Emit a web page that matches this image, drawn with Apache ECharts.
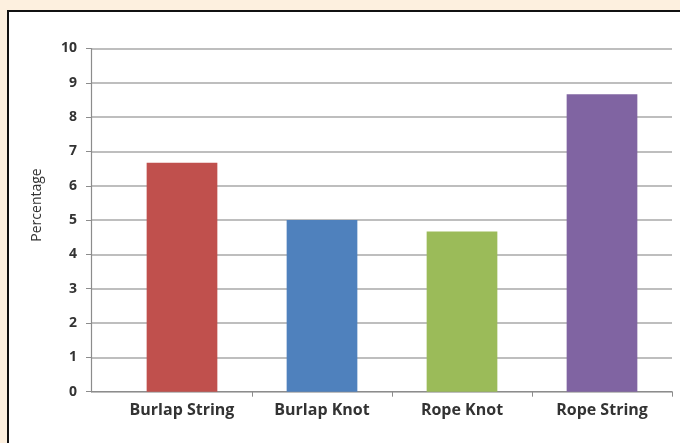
<!DOCTYPE html>
<html>
<head>
<meta charset="utf-8">
<script src="https://cdn.jsdelivr.net/npm/echarts@6/dist/echarts.min.js"></script>
<style>
  html, body { margin: 0; padding: 0; background: #fdf0df; }
  #chart { width: 680px; height: 443px; }
</style>
</head>
<body>
<div id="chart"></div>
<script>
// Share of samples per material / tie type
const categories = ['Burlap String', 'Burlap Knot', 'Rope Knot', 'Rope String'];
const percentages = [6.67, 5.0, 4.67, 8.67];
const barColors = ['#c0504d', '#4f81bd', '#9bbb59', '#8064a2'];
const yTicks = [0, 1, 2, 3, 4, 5, 6, 7, 8, 9, 10];
const yAxisTitle = 'Percentage';

const textColor = '#333333';
const fontFamily = '"Open Sans", "Noto Sans", sans-serif';

const chart = echarts.init(document.getElementById('chart'), null, { renderer: 'canvas' });

const gridTop = 48.5, gridBottom = 51.3, gridRight = 8;

chart.setOption({
  backgroundColor: '#fdf0df',
  animation: false,
  graphic: [
    {
      type: 'rect',
      z: -10,
      shape: { x: 8, y: 11, width: 700, height: 460 },
      style: { fill: '#ffffff', stroke: '#111111', lineWidth: 2 }
    },
    {
      type: 'text',
      x: 37, y: 205,
      rotation: Math.PI / 2,
      style: {
        text: yAxisTitle,
        fill: textColor,
        font: '14px ' + fontFamily,
        align: 'center',
        verticalAlign: 'middle'
      }
    }
  ],
  grid: [
    // value axis frame (gridlines start at the vertical axis)
    { left: 91, right: gridRight, top: gridTop, bottom: gridBottom },
    // category area for the bars
    { left: 112, right: gridRight, top: gridTop, bottom: gridBottom }
  ],
  xAxis: [
    {
      gridIndex: 0,
      type: 'value',
      min: -0.15, max: 4,
      axisLine: { show: true, onZero: false, lineStyle: { color: '#8c8c8c', width: 1.2 } },
      axisTick: { show: true, length: 5, customValues: [1, 2, 3, 4], lineStyle: { color: '#8c8c8c' } },
      axisLabel: { show: false },
      splitLine: { show: false }
    },
    {
      gridIndex: 1,
      type: 'category',
      data: categories,
      axisLine: { show: false },
      axisTick: { show: false },
      axisLabel: {
        color: textColor,
        fontFamily: fontFamily,
        fontWeight: 'bold',
        fontSize: 16,
        margin: 11,
        interval: 0
      }
    }
  ],
  yAxis: [
    {
      gridIndex: 0,
      type: 'value',
      min: yTicks[0], max: yTicks[yTicks.length - 1], interval: 1,
      axisLine: { show: true, onZero: false, lineStyle: { color: '#8c8c8c', width: 1.2 } },
      axisTick: { show: true, length: 5, lineStyle: { color: '#8c8c8c' } },
      axisLabel: {
        color: textColor,
        fontFamily: fontFamily,
        fontWeight: 'bold',
        fontSize: 14,
        margin: 14
      },
      splitLine: { show: true, lineStyle: { color: '#a9a9a9', width: 1.5 } }
    },
    {
      gridIndex: 1,
      type: 'value',
      min: yTicks[0], max: yTicks[yTicks.length - 1], interval: 1,
      show: false
    }
  ],
  series: [
    {
      type: 'bar',
      xAxisIndex: 1,
      yAxisIndex: 1,
      barWidth: '50.5%',
      data: percentages.map((v, i) => ({ value: v, itemStyle: { color: barColors[i] } }))
    }
  ]
});
</script>
</body>
</html>
